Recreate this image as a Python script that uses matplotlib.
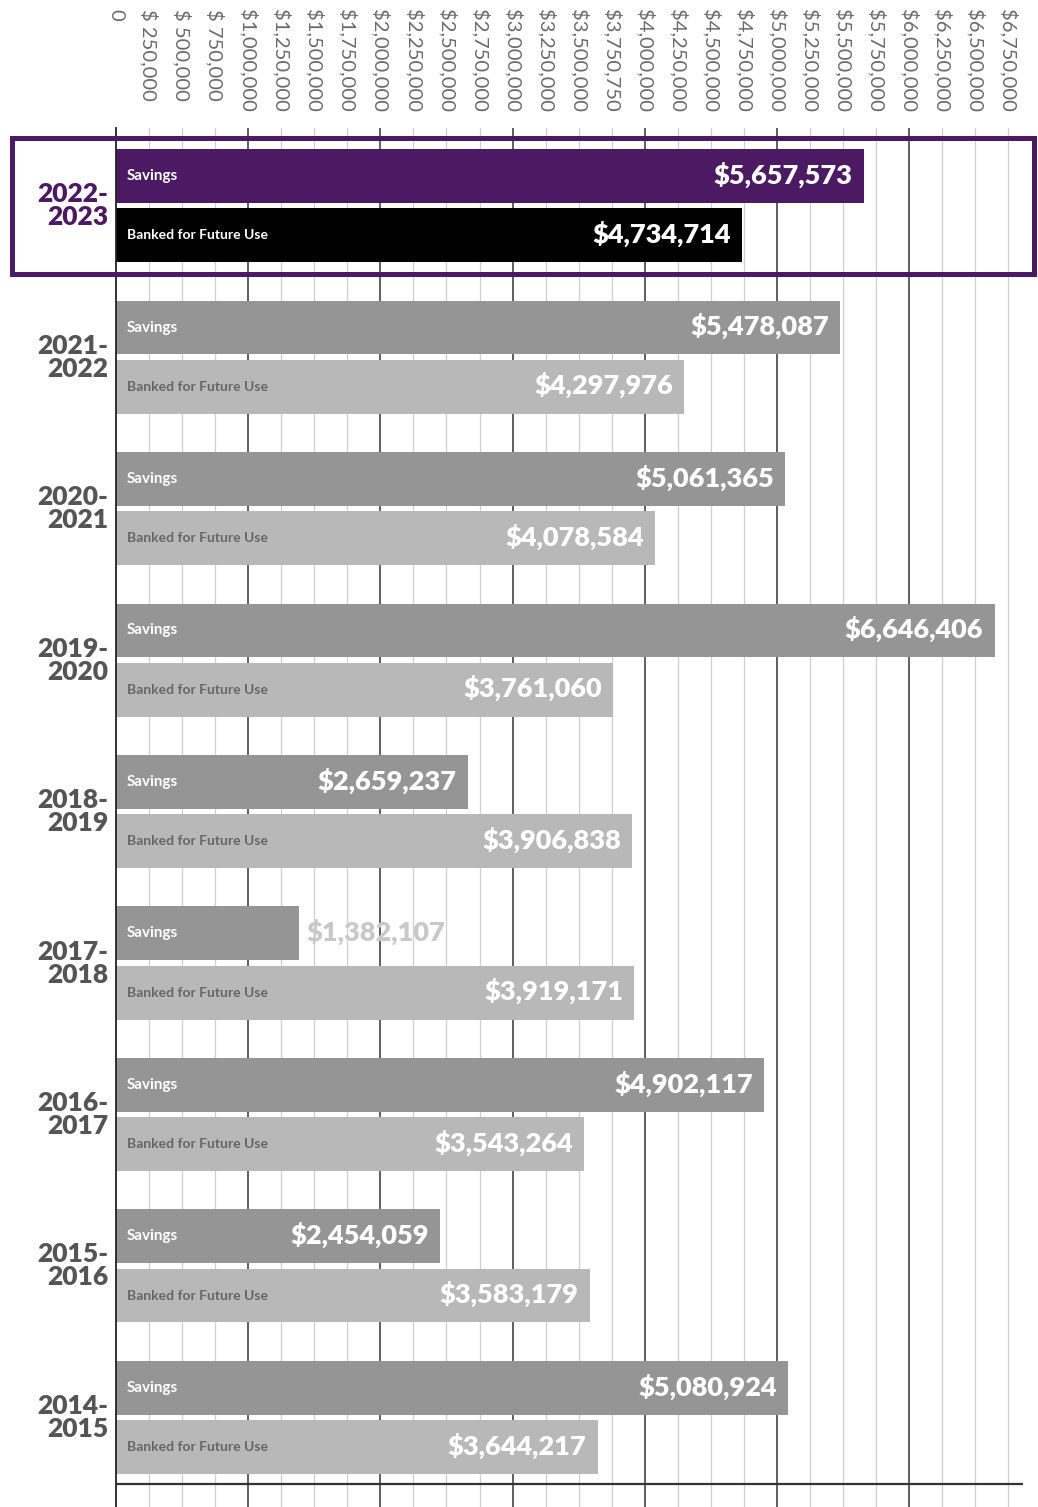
import matplotlib
matplotlib.use("Agg")
import matplotlib.pyplot as plt
from matplotlib.patches import Rectangle
from matplotlib.transforms import blended_transform_factory

# Fiscal years, newest first (top of chart)
years = ["2022-\n2023", "2021-\n2022", "2020-\n2021", "2019-\n2020", "2018-\n2019",
         "2017-\n2018", "2016-\n2017", "2015-\n2016", "2014-\n2015"]
savings = [5657573, 5478087, 5061365, 6646406, 2659237, 1382107, 4902117, 2454059, 5080924]
banked = [4734714, 4297976, 4078584, 3761060, 3906838, 3919171, 3543264, 3583179, 3644217]

tick_values = [i * 250000 for i in range(28)]
tick_labels = ["0", "$ 250,000", "$ 500,000", "$ 750,000", "$1,000,000", "$1,250,000",
               "$1,500,000", "$1,750,000", "$2,000,000", "$2,250,000", "$2,500,000",
               "$2,750,000", "$3,000,000", "$3,250,000", "$3,500,000", "$3,750,750",
               "$4,000,000", "$4,250,000", "$4,500,000", "$4,750,000", "$5,000,000",
               "$5,250,000", "$5,500,000", "$5,750,000", "$6,000,000", "$6,250,000",
               "$6,500,000", "$6,750,000"]

PURPLE = "#4B1A63"
BLACK = "#000000"
GRAY_SAV = "#959595"
GRAY_BANK = "#b8b8b8"
TXT_GRAY = "#555555"
FONT = ["Lato", "DejaVu Sans"]

W, H = 1038, 1507
fig = plt.figure(figsize=(W / 100, H / 100), dpi=100)
# axes spans x 116..1023 px, y 128..1507 px
ax = fig.add_axes([116 / W, 0, (1023 - 116) / W, (1507 - 128) / H])

BAR_H = 0.356
OFF = 0.39
ax.set_xlim(0, 6.861e6)
ax.set_ylim(8.786, -0.317)

for x in tick_values[1:]:
    major = x % 1000000 == 0
    ax.axvline(x, color="#333333" if major else "#cfcfcf",
               lw=1.1 if major else 0.9, zorder=0)

ytr = blended_transform_factory(ax.transAxes, ax.transData)

for i, (s, b) in enumerate(zip(savings, banked)):
    hi = i == 0
    ax.barh(i, s, height=BAR_H, color=PURPLE if hi else GRAY_SAV, zorder=2)
    ax.barh(i + OFF, b, height=BAR_H, color=BLACK if hi else GRAY_BANK, zorder=2)

    ax.text(0.08e6, i, "Savings", color="white", fontsize=11, fontweight="bold",
            va="center", ha="left", family=FONT, zorder=3)
    ax.text(0.08e6, i + OFF, "Banked for Future Use", color="white" if hi else "#666666",
            fontsize=10, fontweight="bold", va="center", ha="left", family=FONT, zorder=3)

    for val, y in ((s, i), (b, i + OFF)):
        lab = f"${val:,}"
        if val < 1500000:
            # too short for the label: put it outside in light gray
            ax.text(val + 0.06e6, y - 0.01, lab, color="#c8c8c8", fontsize=19.5,
                    fontweight="heavy", va="center", ha="left", family=FONT, zorder=3)
        else:
            ax.text(val - 0.085e6, y - 0.01, lab, color="white", fontsize=19.5,
                    fontweight="heavy", va="center", ha="right", family=FONT, zorder=3)

    ax.text(-8 / 907, i + OFF / 2, years[i], transform=ytr, ha="right", va="center",
            fontsize=19, fontweight="heavy", color=PURPLE if hi else TXT_GRAY,
            linespacing=0.95, family=FONT, clip_on=False)

# baseline
ax.axhline(8.634, color="#333333", lw=1.6, zorder=4)

# axis styling: ticks on top, rotated, gray
ax.set_yticks([])
ax.set_xticks(tick_values)
ax.set_xticklabels(tick_labels)
ax.xaxis.tick_top()
ax.tick_params(axis="x", length=0, pad=86, labelsize=14.5, labelcolor="#6a6a6a")
for t in ax.get_xticklabels():
    t.set_rotation(-90)
    t.set_va("top")
    t.set_ha("center")
    t.set_family(FONT)
for side in ("top", "right", "bottom"):
    ax.spines[side].set_visible(False)
ax.spines["left"].set_color("#222222")
ax.spines["left"].set_linewidth(1.3)

# highlight frame around the latest year
fig.patches.append(Rectangle((12 / W, 1 - 274 / H), (1034 - 12) / W, (274 - 138) / H,
                             transform=fig.transFigure, fill=False, edgecolor=PURPLE,
                             lw=3.6, zorder=5))

fig.savefig("out.png", dpi=100)
